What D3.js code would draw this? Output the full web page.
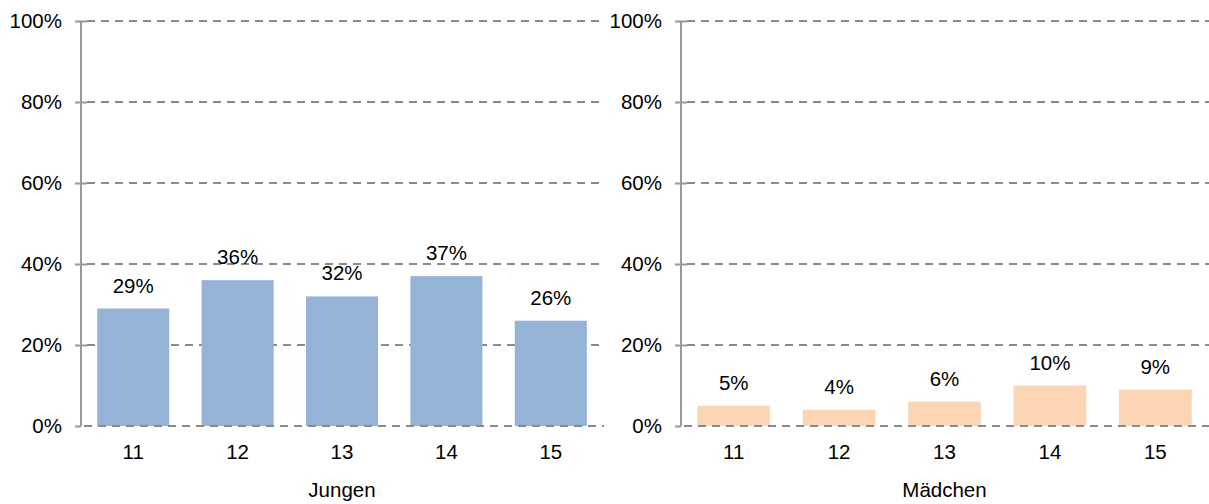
<!DOCTYPE html>
<html>
<head>
<meta charset="utf-8">
<script src="https://cdn.jsdelivr.net/npm/d3@7/dist/d3.min.js"></script>
<style>
  html, body { margin: 0; padding: 0; background: #fff; }
  svg { display: block; }
  text { font-family: "Liberation Sans", Arial, sans-serif; fill: #000; }
</style>
</head>
<body>
<svg id="chart" width="1209" height="504"></svg>
<script>
// Ages on the x axis
const ages = ["11", "12", "13", "14", "15"];
// Share per age group, in percent
const boys = [29, 36, 32, 37, 26];
const girls = [5, 4, 6, 10, 9];
// Panel titles
const panelTitles = ["Jungen", "Mädchen"];
// Y axis tick values (percent)
const yTicks = [0, 20, 40, 60, 80, 100];

const panels = [
  { title: panelTitles[0], values: boys, color: "#95B3D7", x0: 81, x1: 603, gridRight: 604 },
  { title: panelTitles[1], values: girls, color: "#FCD5B5", x0: 681, x1: 1208, gridRight: 1209 }
];

const svg = d3.select("#chart");
const y = d3.scaleLinear().domain([0, 100]).range([426, 21]);
const fontSize = 20.5;
const gridColor = "#8a8a8a";

panels.forEach(p => {
  const g = svg.append("g");
  const x = d3.scaleBand().domain(ages).range([p.x0, p.x1]).padding(0);
  const barW = x.bandwidth() * 0.69;

  // dashed gridlines (the baseline is drawn later, above the bars)
  g.selectAll("line.grid")
    .data(yTicks.filter(t => t > 0))
    .join("line")
    .attr("class", "grid")
    .attr("x1", p.x0 + 6).attr("x2", p.gridRight)
    .attr("y1", d => y(d)).attr("y2", d => y(d))
    .attr("stroke", gridColor).attr("stroke-width", 2)
    .attr("stroke-dasharray", "8,6");

  // bars
  g.selectAll("rect.bar")
    .data(p.values)
    .join("rect")
    .attr("class", "bar")
    .attr("x", (d, i) => x(ages[i]) + (x.bandwidth() - barW) / 2)
    .attr("width", barW)
    .attr("y", d => y(d))
    .attr("height", d => y(0) - y(d))
    .attr("fill", p.color);

  // baseline
  g.append("line")
    .attr("x1", p.x0).attr("x2", p.gridRight)
    .attr("y1", y(0)).attr("y2", y(0))
    .attr("stroke", gridColor).attr("stroke-width", 2)
    .attr("stroke-dasharray", "8,6")
    .attr("stroke-dashoffset", -3);

  // y axis with ticks crossing the axis line
  const yAxis = d3.axisLeft(y).tickValues(yTicks).tickFormat(d => d + "%").tickSize(0).tickPadding(19);
  const ax = g.append("g").attr("transform", `translate(${p.x0},0)`).call(yAxis);
  ax.select(".domain").attr("stroke", "#999").attr("stroke-width", 2).attr("d", `M0,${y(100)}V${y(0)}`);
  ax.selectAll(".tick text")
    .attr("font-size", fontSize)
    .attr("font-family", "Liberation Sans, Arial, sans-serif")
    .attr("fill", "#000");
  ax.selectAll(".tick line")
    .attr("x1", -6).attr("x2", d => d === 0 ? 0 : 6)
    .attr("stroke", "#999").attr("stroke-width", 2);

  // x axis labels
  const xAxis = d3.axisBottom(x).tickSize(0).tickPadding(18);
  const xa = g.append("g").attr("transform", `translate(0,${y(0)})`).call(xAxis);
  xa.select(".domain").remove();
  xa.selectAll(".tick text")
    .attr("font-size", fontSize)
    .attr("font-family", "Liberation Sans, Arial, sans-serif")
    .attr("fill", "#000");

  // value labels
  g.selectAll("text.val")
    .data(p.values)
    .join("text")
    .attr("class", "val")
    .attr("x", (d, i) => x(ages[i]) + x.bandwidth() / 2)
    .attr("y", d => y(d) - 16)
    .attr("text-anchor", "middle")
    .attr("font-size", fontSize)
    .text(d => d + "%");

  // panel title
  g.append("text")
    .attr("x", (p.x0 + p.x1) / 2)
    .attr("y", 497)
    .attr("text-anchor", "middle")
    .attr("font-size", fontSize)
    .text(p.title);
});
</script>
</body>
</html>
